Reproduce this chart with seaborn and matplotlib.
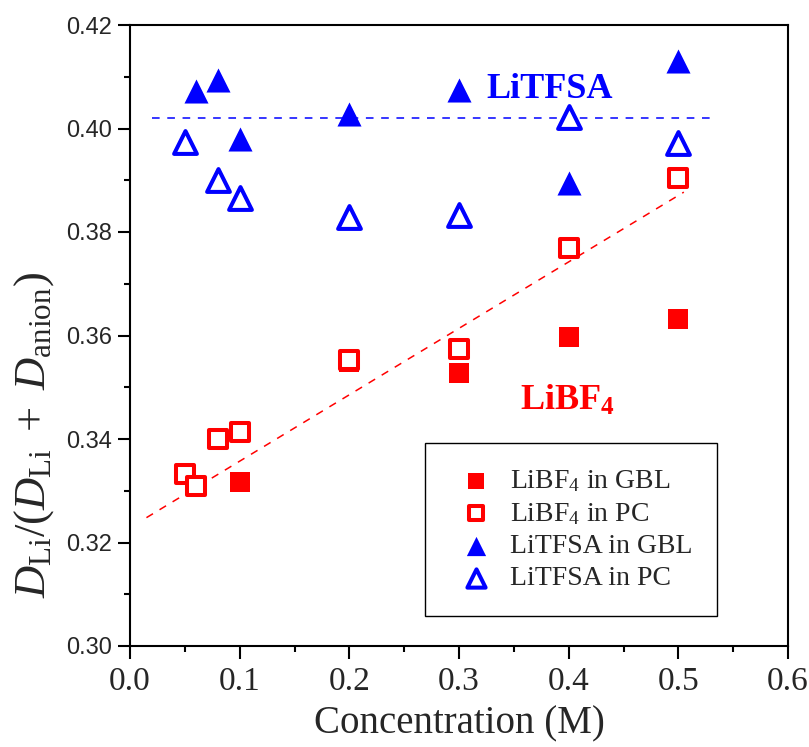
import matplotlib
matplotlib.use("Agg")
import matplotlib.pyplot as plt
import seaborn as sns
from matplotlib.ticker import MultipleLocator, FormatStrFormatter

# data
conc_bf4_gbl = [0.1, 0.2, 0.3, 0.4, 0.5]
ratio_bf4_gbl = [0.3317, 0.3548, 0.3528, 0.3597, 0.3632]

conc_bf4_pc = [0.05, 0.06, 0.08, 0.1, 0.2, 0.3, 0.4, 0.5]
ratio_bf4_pc = [0.3332, 0.3309, 0.3400, 0.3413, 0.3553, 0.3574, 0.3769, 0.3904]

conc_tfsa_gbl = [0.06, 0.08, 0.1, 0.2, 0.3, 0.4, 0.5]
ratio_tfsa_gbl = [0.4072, 0.4094, 0.3980, 0.4028, 0.4074, 0.3895, 0.4130]

conc_tfsa_pc = [0.05, 0.08, 0.1, 0.2, 0.3, 0.4, 0.5]
ratio_tfsa_pc = [0.3974, 0.3900, 0.3866, 0.3829, 0.3833, 0.4022, 0.3972]

# guide lines
fit_bf4_x = [0.015, 0.505]
fit_bf4_y = [0.3248, 0.3877]
tfsa_level_x = [0.02, 0.53]
tfsa_level_y = [0.402, 0.402]

RED = "#ff0000"
BLUE = "#0000ff"

sns.set_style("ticks")
plt.rcParams["font.family"] = ["Liberation Serif", "DejaVu Serif"]
plt.rcParams["mathtext.fontset"] = "custom"
plt.rcParams["mathtext.rm"] = "Liberation Serif"
plt.rcParams["mathtext.it"] = "Liberation Serif:italic"
plt.rcParams["mathtext.bf"] = "Liberation Serif:bold"

fig = plt.figure(figsize=(8.09, 7.47), dpi=100)
ax = fig.add_axes([130 / 809, 1 - 646 / 747, 658 / 809, 621 / 747])

# dashed guide lines
sns.lineplot(x=fit_bf4_x, y=fit_bf4_y, color=RED, lw=1.1, ax=ax)
ax.lines[-1].set_dashes((5, 5))
sns.lineplot(x=tfsa_level_x, y=tfsa_level_y, color=BLUE, lw=1.1, ax=ax)
ax.lines[-1].set_dashes((5, 5))

# data series
sns.scatterplot(x=conc_bf4_gbl, y=ratio_bf4_gbl, marker="s", s=207, color=RED,
                linewidth=0, label="LiBF$_4$ in GBL", ax=ax, zorder=3)
sns.scatterplot(x=conc_bf4_pc, y=ratio_bf4_pc, marker="s", s=170, color="white",
                edgecolor=RED, linewidth=2.9, label="LiBF$_4$ in PC", ax=ax, zorder=4)
sns.scatterplot(x=conc_tfsa_gbl, y=ratio_tfsa_gbl, marker="^", s=300, color=BLUE,
                linewidth=0, label="LiTFSA in GBL", ax=ax, zorder=3)
sns.scatterplot(x=conc_tfsa_pc, y=ratio_tfsa_pc, marker="^", s=270, color="white",
                edgecolor=BLUE, linewidth=2.9, label="LiTFSA in PC", ax=ax, zorder=3)

ax.set_xlim(0, 0.6)
ax.set_ylim(0.30, 0.42)
ax.xaxis.set_major_locator(MultipleLocator(0.1))
ax.xaxis.set_minor_locator(MultipleLocator(0.05))
ax.yaxis.set_major_locator(MultipleLocator(0.02))
ax.yaxis.set_minor_locator(MultipleLocator(0.01))
ax.xaxis.set_major_formatter(FormatStrFormatter("%.1f"))
ax.yaxis.set_major_formatter(FormatStrFormatter("%.2f"))

for sp in ax.spines.values():
    sp.set_linewidth(1.5)
    sp.set_color("black")
ax.tick_params(which="major", direction="out", length=9, width=1.5, color="black")
ax.tick_params(which="minor", direction="out", length=4.5, width=1.5, color="black")
ax.tick_params(axis="x", which="major", labelsize=24, pad=6)
ax.tick_params(axis="y", which="major", labelsize=17, pad=4,
               labelfontfamily="Liberation Sans")

ax.set_xlabel("Concentration (M)", fontsize=28, labelpad=6)
ax.set_ylabel(r"$D_{\mathrm{Li}}/(D_{\mathrm{Li}}\ +\ D_{\mathrm{anion}})$",
              fontsize=32)
ax.yaxis.set_label_coords(-0.112, 0.34)

ax.text(0.325, 0.4059, "LiTFSA", color=BLUE, fontsize=26, fontweight="bold",
        ha="left", va="baseline")
ax.text(0.3556, 0.3456, r"LiBF$_{\mathbf{4}}$", color=RED, fontsize=26,
        fontweight="bold", ha="left", va="baseline")

leg = ax.legend(loc="upper left", bbox_to_anchor=(0.448, 0.327), fontsize=20,
                markerscale=0.8, frameon=True, fancybox=False, framealpha=1,
                edgecolor="black", borderpad=0.9, handlelength=1.9,
                handletextpad=0.25, labelspacing=0.25, borderaxespad=0)
leg.get_frame().set_linewidth(1.0)

fig.savefig("out.png", dpi=100)
